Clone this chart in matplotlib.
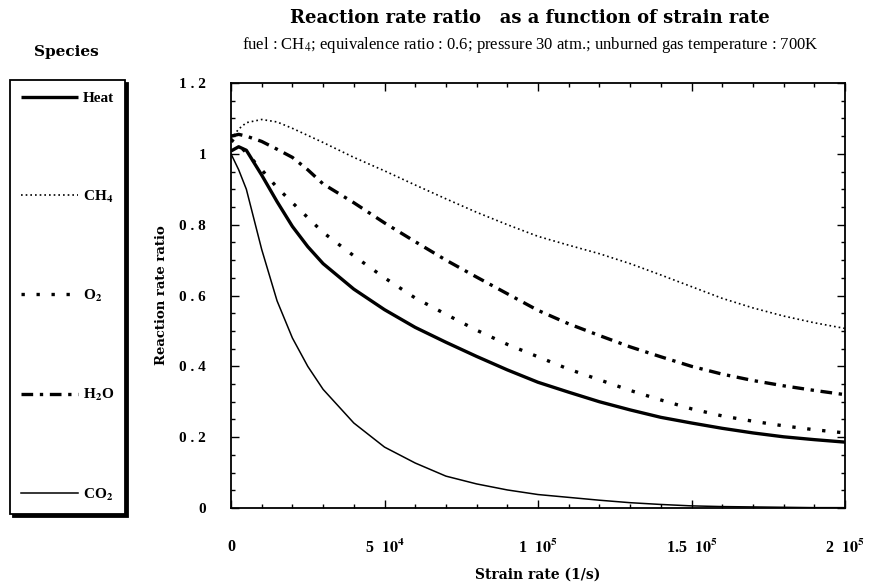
import numpy as np
import matplotlib
matplotlib.use('Agg')
import matplotlib.pyplot as plt
from matplotlib.ticker import MultipleLocator, FixedLocator

plt.rcParams['font.family'] = ['Liberation Serif', 'DejaVu Serif']
plt.rcParams['mathtext.fontset'] = 'stix'

# strain rate (1/s)
strain_rate = np.array([0, 0.25, 0.5, 1, 1.5, 2, 2.5, 3, 4, 5, 6, 7, 8, 9, 10,
                        11, 12, 13, 14, 15, 16, 17, 18, 19, 20]) * 1e4

heat = [1.008, 1.02, 1.01, 0.94, 0.865, 0.795, 0.738, 0.69, 0.618, 0.56, 0.51,
        0.468, 0.428, 0.39, 0.355, 0.327, 0.30, 0.277, 0.256, 0.24, 0.225,
        0.212, 0.201, 0.193, 0.186]
ch4 = [1.042, 1.07, 1.088, 1.097, 1.09, 1.072, 1.052, 1.032, 0.99, 0.952, 0.912,
       0.873, 0.835, 0.80, 0.767, 0.742, 0.718, 0.69, 0.658, 0.625, 0.592,
       0.565, 0.542, 0.523, 0.507]
o2 = [1.04, 1.025, 1.003, 0.955, 0.905, 0.862, 0.82, 0.778, 0.712, 0.65, 0.593,
      0.547, 0.502, 0.462, 0.427, 0.392, 0.362, 0.332, 0.305, 0.28, 0.26,
      0.245, 0.232, 0.221, 0.212]
h2o = [1.05, 1.055, 1.05, 1.035, 1.013, 0.99, 0.955, 0.915, 0.862, 0.805, 0.752,
       0.70, 0.652, 0.605, 0.558, 0.52, 0.487, 0.455, 0.427, 0.40, 0.378,
       0.36, 0.345, 0.332, 0.32]
co2 = [1.0, 0.955, 0.90, 0.73, 0.585, 0.48, 0.40, 0.335, 0.24, 0.172, 0.127,
       0.09, 0.068, 0.051, 0.038, 0.03, 0.022, 0.015, 0.01, 0.006, 0.004,
       0.003, 0.002, 0.001, 0.001]

species = ['Heat', r'CH$_\mathbf{4}$', r'O$_\mathbf{2}$', r'H$_\mathbf{2}$O', r'CO$_\mathbf{2}$']

xticks = [0, 5e4, 1e5, 1.5e5, 2e5]
xticklabels = ['0', r'5  $\mathbf{10^{4}}$', r'1  $\mathbf{10^{5}}$',
               r'1.5  $\mathbf{10^{5}}$', r'2  $\mathbf{10^{5}}$']
yticks = [0, 0.2, 0.4, 0.6, 0.8, 1.0, 1.2]
yticklabels = ['0', '0 . 2', '0 . 4', '0 . 6', '0 . 8', '1', '1 . 2']

wide = 'DejaVu Serif'   # wide bold face for the spaced-out headings

fig = plt.figure(figsize=(8.69, 5.85), dpi=100)
ax = fig.add_axes([231/869, 1-508/585, 614/869, 425/585])

l1, = ax.plot(strain_rate, heat, color='black', lw=2.4, solid_capstyle='butt')
l2, = ax.plot(strain_rate, ch4, color='black', lw=1.2, ls=(0, (1, 1.8)))
l3, = ax.plot(strain_rate, o2, color='black', lw=2.4, ls=(0, (1, 3.5)))
l4, = ax.plot(strain_rate, h2o, color='black', lw=2.4, ls=(0, (3.5, 2, 1, 2)))
l5, = ax.plot(strain_rate, co2, color='black', lw=1.1)

ax.set_xlim(0, 2e5)
ax.set_ylim(0, 1.2)
ax.xaxis.set_major_locator(FixedLocator(xticks))
ax.set_xticklabels(xticklabels)
ax.xaxis.set_minor_locator(MultipleLocator(1e4))
ax.yaxis.set_major_locator(FixedLocator(yticks))
ax.set_yticklabels(yticklabels)
ax.yaxis.set_minor_locator(MultipleLocator(0.05))
ax.tick_params(which='both', direction='in', top=True, right=True, width=1.0)
ax.tick_params(which='major', length=6)
ax.tick_params(which='minor', length=3)
ax.tick_params(axis='x', which='major', pad=22)
ax.tick_params(axis='y', which='major', pad=18)
for lab in ax.get_xticklabels():
    lab.set_fontweight('bold')
    lab.set_fontsize(11.5)
for lab in ax.get_yticklabels():
    lab.set_fontweight('bold')
    lab.set_fontsize(11)
for sp in ax.spines.values():
    sp.set_linewidth(1.3)

ax.set_xlabel('Strain rate (1/s)', fontsize=10, fontweight='bold', family=wide,
              labelpad=8)
ax.set_ylabel('Reaction rate ratio', fontsize=9.5, fontweight='bold', family=wide,
              labelpad=8)

fig.text(0.61, 1-18/585, 'Reaction rate ratio   as a function of strain rate',
         ha='center', va='center', fontsize=13, fontweight='bold', family=wide)
fig.text(0.61, 1-45/585,
         r'fuel : CH$_4$; equivalence ratio : 0.6; pressure 30 atm.; unburned gas temperature : 700K',
         ha='center', va='center', fontsize=12)
fig.text(66/869, 1-52/585, 'Species', ha='center', va='center',
         fontsize=11, fontweight='bold', family=wide)

leg = fig.legend([l1, l2, l3, l4, l5], species, loc='upper left',
                 bbox_to_anchor=(10/869, 1-80/585), frameon=True, fancybox=False,
                 shadow={'facecolor': 'black', 'edgecolor': 'black', 'alpha': 1},
                 edgecolor='black',
                 prop={'weight': 'bold', 'size': 11}, handlelength=3.7,
                 handletextpad=0.3, labelspacing=5.45, borderpad=0.75,
                 borderaxespad=0)
leg.get_frame().set_linewidth(1.3)

fig.savefig('out.png', dpi=100)
